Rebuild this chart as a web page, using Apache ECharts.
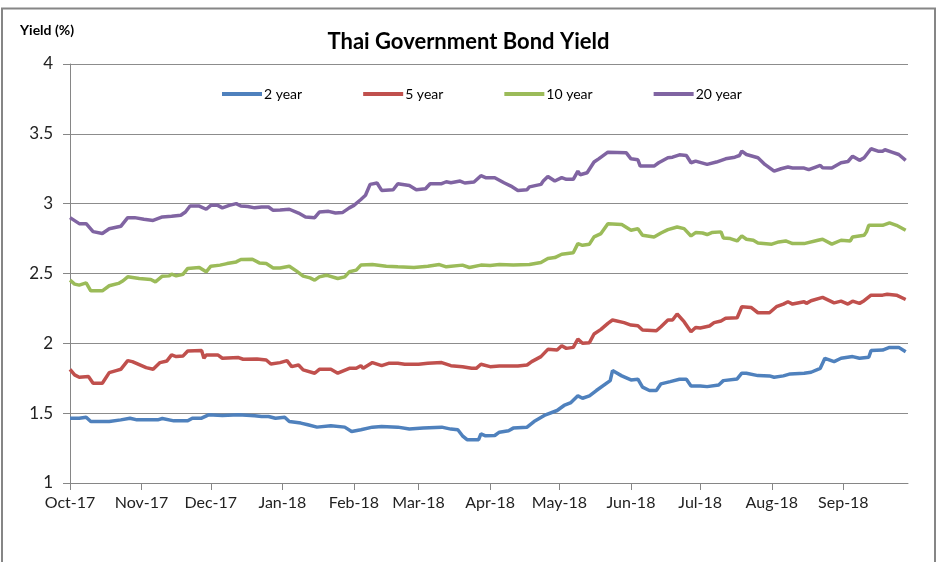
<!DOCTYPE html>
<html>
<head>
<meta charset="utf-8">
<script src="https://cdn.jsdelivr.net/npm/echarts@6/dist/echarts.min.js"></script>
<style>
html,body{margin:0;padding:0;background:#fff;}
#chart{width:937px;height:562px;}
</style>
</head>
<body>
<div id="chart"></div>
<script>
// ---- Data ----
const seriesNames = ['2 year', '5 year', '10 year', '20 year'];
const seriesColors = ['#4F81BD', '#C0504D', '#9BBB59', '#8064A2'];
const yTicks = [1, 1.5, 2, 2.5, 3, 3.5, 4];
const monthLabels = ['Jan','Feb','Mar','Apr','May','Jun','Jul','Aug','Sep','Oct','Nov','Dec'];

const y2Dates = ['2017-10-01','2017-10-05','2017-10-08','2017-10-10','2017-10-18','2017-10-23','2017-10-27','2017-10-30','2017-11-08','2017-11-10','2017-11-15','2017-11-21','2017-11-23','2017-11-27','2017-11-30','2017-12-06','2017-12-13','2017-12-20','2017-12-23','2017-12-26','2017-12-29','2018-01-02','2018-01-04','2018-01-09','2018-01-12','2018-01-16','2018-01-22','2018-01-28','2018-01-31','2018-02-04','2018-02-09','2018-02-13','2018-02-20','2018-02-25','2018-03-03','2018-03-11','2018-03-15','2018-03-18','2018-03-20','2018-03-22','2018-03-27','2018-03-28','2018-03-30','2018-04-03','2018-04-05','2018-04-09','2018-04-11','2018-04-17','2018-04-20','2018-04-25','2018-04-30','2018-05-03','2018-05-06','2018-05-09','2018-05-11','2018-05-14','2018-05-17','2018-05-23','2018-05-24','2018-05-28','2018-06-01','2018-06-04','2018-06-06','2018-06-09','2018-06-12','2018-06-14','2018-06-18','2018-06-22','2018-06-25','2018-06-27','2018-07-01','2018-07-04','2018-07-09','2018-07-11','2018-07-17','2018-07-19','2018-07-21','2018-07-26','2018-07-31','2018-08-02','2018-08-06','2018-08-09','2018-08-15','2018-08-18','2018-08-22','2018-08-24','2018-08-28','2018-08-31','2018-09-05','2018-09-08','2018-09-12','2018-09-13','2018-09-18','2018-09-21','2018-09-25','2018-09-28'];
const y2Values = [1.464,1.464,1.471,1.44,1.44,1.452,1.464,1.452,1.452,1.462,1.445,1.445,1.464,1.464,1.488,1.483,1.488,1.481,1.476,1.476,1.464,1.471,1.44,1.429,1.417,1.40,1.41,1.40,1.369,1.381,1.40,1.405,1.40,1.386,1.393,1.40,1.386,1.381,1.338,1.31,1.31,1.352,1.338,1.34,1.364,1.374,1.393,1.40,1.44,1.488,1.519,1.555,1.576,1.624,1.607,1.624,1.662,1.733,1.805,1.767,1.738,1.743,1.686,1.662,1.662,1.71,1.726,1.743,1.743,1.695,1.695,1.69,1.702,1.733,1.745,1.786,1.786,1.769,1.767,1.757,1.767,1.781,1.786,1.793,1.821,1.893,1.869,1.893,1.905,1.893,1.90,1.948,1.952,1.971,1.971,1.94];

const y5Dates = ['2017-10-01','2017-10-03','2017-10-05','2017-10-09','2017-10-11','2017-10-15','2017-10-18','2017-10-21','2017-10-23','2017-10-26','2017-10-28','2017-11-03','2017-11-06','2017-11-09','2017-11-12','2017-11-14','2017-11-16','2017-11-19','2017-11-21','2017-11-27','2017-11-28','2017-11-29','2017-12-04','2017-12-06','2017-12-13','2017-12-15','2017-12-21','2017-12-25','2017-12-27','2017-12-31','2018-01-03','2018-01-05','2018-01-08','2018-01-10','2018-01-15','2018-01-17','2018-01-22','2018-01-25','2018-01-30','2018-02-02','2018-02-04','2018-02-05','2018-02-09','2018-02-13','2018-02-16','2018-02-20','2018-02-23','2018-03-01','2018-03-05','2018-03-11','2018-03-15','2018-03-20','2018-03-24','2018-03-26','2018-03-28','2018-04-01','2018-04-05','2018-04-08','2018-04-13','2018-04-17','2018-04-19','2018-04-23','2018-04-26','2018-04-30','2018-05-02','2018-05-04','2018-05-07','2018-05-09','2018-05-11','2018-05-14','2018-05-16','2018-05-19','2018-05-22','2018-05-24','2018-05-29','2018-06-01','2018-06-04','2018-06-06','2018-06-12','2018-06-14','2018-06-17','2018-06-19','2018-06-21','2018-06-24','2018-06-27','2018-06-29','2018-07-01','2018-07-05','2018-07-07','2018-07-10','2018-07-12','2018-07-17','2018-07-19','2018-07-23','2018-07-26','2018-07-31','2018-08-03','2018-08-06','2018-08-08','2018-08-10','2018-08-15','2018-08-16','2018-08-18','2018-08-23','2018-08-28','2018-08-31','2018-09-03','2018-09-05','2018-09-08','2018-09-10','2018-09-13','2018-09-18','2018-09-20','2018-09-24','2018-09-28'];
const y5Values = [1.814,1.774,1.757,1.762,1.714,1.714,1.79,1.805,1.814,1.876,1.869,1.826,1.814,1.862,1.874,1.917,1.905,1.91,1.945,1.948,1.893,1.917,1.917,1.893,1.898,1.886,1.888,1.881,1.852,1.862,1.876,1.833,1.845,1.81,1.786,1.814,1.814,1.786,1.821,1.821,1.84,1.821,1.862,1.84,1.857,1.857,1.85,1.85,1.857,1.862,1.84,1.833,1.821,1.821,1.85,1.833,1.838,1.838,1.838,1.845,1.869,1.905,1.957,1.952,1.983,1.964,1.971,2.031,2.0,2.005,2.067,2.10,2.143,2.167,2.148,2.131,2.126,2.095,2.09,2.119,2.167,2.167,2.21,2.155,2.083,2.114,2.11,2.124,2.148,2.16,2.179,2.183,2.262,2.257,2.219,2.219,2.262,2.281,2.298,2.281,2.298,2.286,2.305,2.329,2.29,2.302,2.281,2.302,2.286,2.305,2.345,2.345,2.352,2.345,2.314];

const y10Dates = ['2017-10-01','2017-10-03','2017-10-05','2017-10-08','2017-10-10','2017-10-15','2017-10-18','2017-10-22','2017-10-24','2017-10-26','2017-10-31','2017-11-05','2017-11-07','2017-11-10','2017-11-13','2017-11-14','2017-11-16','2017-11-19','2017-11-21','2017-11-26','2017-11-29','2017-12-01','2017-12-05','2017-12-08','2017-12-12','2017-12-14','2017-12-19','2017-12-22','2017-12-25','2017-12-28','2017-12-31','2018-01-04','2018-01-07','2018-01-10','2018-01-13','2018-01-15','2018-01-17','2018-01-20','2018-01-25','2018-01-28','2018-01-30','2018-02-02','2018-02-04','2018-02-09','2018-02-15','2018-02-20','2018-02-27','2018-03-05','2018-03-10','2018-03-13','2018-03-20','2018-03-23','2018-03-28','2018-04-01','2018-04-05','2018-04-11','2018-04-18','2018-04-23','2018-04-26','2018-04-29','2018-05-02','2018-05-07','2018-05-09','2018-05-11','2018-05-14','2018-05-16','2018-05-19','2018-05-22','2018-05-28','2018-06-01','2018-06-04','2018-06-06','2018-06-11','2018-06-14','2018-06-17','2018-06-21','2018-06-24','2018-06-27','2018-06-29','2018-07-02','2018-07-04','2018-07-06','2018-07-10','2018-07-11','2018-07-14','2018-07-17','2018-07-19','2018-07-21','2018-07-24','2018-07-26','2018-08-01','2018-08-04','2018-08-07','2018-08-10','2018-08-15','2018-08-21','2018-08-23','2018-08-27','2018-08-31','2018-09-04','2018-09-05','2018-09-10','2018-09-11','2018-09-12','2018-09-18','2018-09-21','2018-09-24','2018-09-28'];
const y10Values = [2.452,2.424,2.417,2.433,2.376,2.376,2.412,2.429,2.448,2.476,2.464,2.457,2.44,2.481,2.483,2.495,2.483,2.495,2.536,2.543,2.512,2.552,2.56,2.571,2.583,2.60,2.602,2.576,2.571,2.54,2.54,2.552,2.519,2.481,2.469,2.452,2.476,2.488,2.464,2.476,2.512,2.524,2.56,2.564,2.552,2.548,2.543,2.552,2.564,2.548,2.56,2.543,2.56,2.558,2.564,2.56,2.564,2.579,2.607,2.614,2.638,2.648,2.714,2.702,2.71,2.762,2.786,2.857,2.85,2.81,2.821,2.774,2.762,2.79,2.814,2.833,2.821,2.769,2.793,2.79,2.779,2.793,2.798,2.755,2.75,2.733,2.769,2.745,2.738,2.719,2.71,2.726,2.733,2.714,2.714,2.738,2.745,2.71,2.738,2.733,2.762,2.774,2.798,2.845,2.845,2.862,2.845,2.81];

const y20Dates = ['2017-10-01','2017-10-05','2017-10-08','2017-10-11','2017-10-15','2017-10-18','2017-10-23','2017-10-26','2017-10-29','2017-11-02','2017-11-06','2017-11-10','2017-11-14','2017-11-18','2017-11-20','2017-11-22','2017-11-26','2017-11-29','2017-12-01','2017-12-04','2017-12-06','2017-12-09','2017-12-12','2017-12-14','2017-12-17','2017-12-20','2017-12-23','2017-12-26','2017-12-28','2017-12-31','2018-01-04','2018-01-08','2018-01-11','2018-01-15','2018-01-17','2018-01-21','2018-01-24','2018-01-27','2018-01-30','2018-02-01','2018-02-04','2018-02-06','2018-02-08','2018-02-11','2018-02-13','2018-02-18','2018-02-20','2018-02-25','2018-02-28','2018-03-04','2018-03-06','2018-03-11','2018-03-13','2018-03-15','2018-03-19','2018-03-21','2018-03-25','2018-03-28','2018-03-30','2018-04-03','2018-04-07','2018-04-10','2018-04-13','2018-04-17','2018-04-18','2018-04-23','2018-04-24','2018-04-26','2018-04-29','2018-05-02','2018-05-04','2018-05-07','2018-05-09','2018-05-10','2018-05-13','2018-05-16','2018-05-18','2018-05-22','2018-05-30','2018-06-01','2018-06-04','2018-06-05','2018-06-11','2018-06-13','2018-06-17','2018-06-19','2018-06-22','2018-06-25','2018-06-27','2018-06-29','2018-07-04','2018-07-08','2018-07-12','2018-07-16','2018-07-18','2018-07-19','2018-07-21','2018-07-26','2018-07-29','2018-08-02','2018-08-05','2018-08-08','2018-08-10','2018-08-15','2018-08-17','2018-08-20','2018-08-22','2018-08-23','2018-08-27','2018-08-31','2018-09-03','2018-09-05','2018-09-08','2018-09-10','2018-09-13','2018-09-16','2018-09-18','2018-09-19','2018-09-22','2018-09-25','2018-09-28'];
const y20Values = [2.90,2.857,2.857,2.80,2.786,2.82,2.838,2.90,2.90,2.888,2.88,2.905,2.91,2.917,2.94,2.983,2.983,2.96,2.988,2.988,2.97,2.988,3.0,2.983,2.98,2.97,2.976,2.976,2.952,2.955,2.96,2.933,2.905,2.90,2.94,2.945,2.933,2.936,2.97,2.988,3.03,3.06,3.138,3.148,3.095,3.10,3.143,3.13,3.10,3.107,3.143,3.143,3.157,3.15,3.162,3.148,3.155,3.20,3.186,3.186,3.15,3.126,3.095,3.10,3.12,3.138,3.162,3.195,3.162,3.186,3.174,3.174,3.233,3.207,3.221,3.298,3.321,3.369,3.364,3.321,3.314,3.269,3.269,3.293,3.329,3.333,3.35,3.345,3.293,3.305,3.281,3.298,3.321,3.333,3.345,3.376,3.352,3.329,3.281,3.233,3.25,3.262,3.255,3.255,3.243,3.262,3.274,3.257,3.255,3.293,3.302,3.34,3.31,3.329,3.393,3.376,3.376,3.386,3.369,3.352,3.31];

const xMin = '2017-10-01';
const xMax = '2018-09-29';

// ---- Build ----
const allDates = [y2Dates, y5Dates, y10Dates, y20Dates];
const allValues = [y2Values, y5Values, y10Values, y20Values];
const FONT = 'Lato';
const chart = echarts.init(document.getElementById('chart'), null, {renderer: 'canvas'});

const series = seriesNames.map((name, i) => ({
  name: name,
  type: 'line',
  showSymbol: false,
  symbol: 'none',
  smooth: false,
  lineStyle: {width: 3.5, color: seriesColors[i]},
  itemStyle: {color: seriesColors[i]},
  data: allDates[i].map((d, j) => [d, allValues[i][j]])
}));

chart.setOption({
  animation: false,
  backgroundColor: '#fff',
  textStyle: {fontFamily: FONT},
  title: {
    text: 'Thai Government Bond Yield',
    left: 'center',
    top: 26,
    textStyle: {fontFamily: FONT, fontSize: 22, fontWeight: 'bold', color: '#000'}
  },
  graphic: [
    {type: 'rect', shape: {x: 2, y: 8.5, width: 933, height: 570}, style: {fill: 'none', stroke: '#868686', lineWidth: 2}, silent: true},
    {type: 'text', left: 20, top: 23, style: {text: 'Yield (%)', font: 'bold 14px Lato', fill: '#000'}}
  ],
  legend: {
    left: 222,
    top: 87,
    padding: 0,
    icon: 'rect',
    itemWidth: 40,
    itemHeight: 4,
    itemGap: 61,
    textStyle: {fontFamily: FONT, fontSize: 14, color: '#000', padding: [0, 0, 0, -3]},
    data: seriesNames
  },
  grid: {left: 70, right: 29, top: 64, bottom: 79, containLabel: false},
  xAxis: {
    type: 'time',
    min: xMin,
    max: xMax,
    splitNumber: 12,
    minInterval: 28 * 86400000,
    axisLine: {show: true, lineStyle: {color: '#868686', width: 1}},
    axisTick: {show: true, length: 7, lineStyle: {color: '#868686'}},
    splitLine: {show: false},
    axisLabel: {
      fontFamily: FONT,
      fontSize: 16,
      color: '#222',
      margin: 12,
      showMaxLabel: false,
      hideOverlap: false,
      formatter: function (val) {
        const d = new Date(val);
        return monthLabels[d.getMonth()] + '-' + String(d.getFullYear()).slice(2);
      }
    }
  },
  yAxis: {
    type: 'value',
    min: yTicks[0],
    max: yTicks[yTicks.length - 1],
    interval: yTicks[1] - yTicks[0],
    axisLine: {show: true, lineStyle: {color: '#868686', width: 1}},
    axisTick: {show: true, length: 7, lineStyle: {color: '#868686'}},
    splitLine: {show: true, lineStyle: {color: '#8c8c8c', width: 1}},
    axisLabel: {fontFamily: FONT, fontSize: 17, color: '#222', margin: 17}
  },
  series: series
});
</script>
</body>
</html>
